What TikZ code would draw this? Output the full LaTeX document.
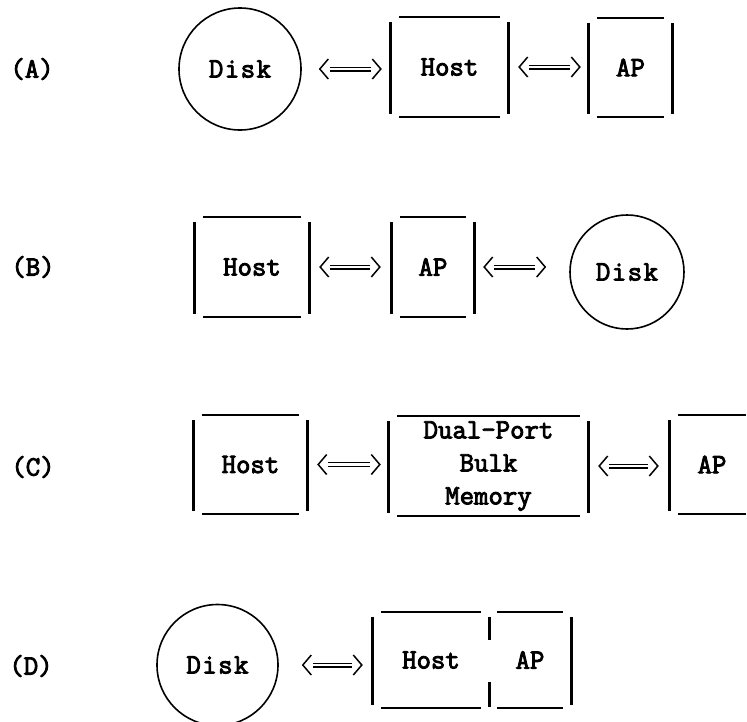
\documentclass[tikz,border=0pt]{standalone}
\usepackage{fontspec}
\newfontfamily\typewriter{Latin Modern Mono}[FakeBold=3.2]
\usetikzlibrary{calc}

\tikzset{
  every node/.style={font=\typewriter\fontsize{28}{33}\selectfont, inner sep=0pt},
  hbar/.style={line width=2pt},
  vbar/.style={line width=3pt},
  disk/.style={circle, draw, line width=1.6pt, minimum size=#1},
  unit/.style 2 args={minimum width=#1, minimum height=#2},
  dbl/.style={double, line width=1.3pt, double distance=2.4pt},
  brk/.style={line width=1.5pt, line join=miter},
}

% horizontal rules above and below a unit
\newcommand\hrules[1]{%
  \draw[hbar] ($(#1.north west)+(8.5,0)$) -- ($(#1.north east)+(-8.5,0)$);
  \draw[hbar] ($(#1.south west)+(8.5,0)$) -- ($(#1.south east)+(-8.5,0)$);}
% heavy side bars
\newcommand\lbar[1]{\draw[vbar] ($(#1.north west)+(0,5)$) -- ($(#1.south west)+(0,-3)$);}
\newcommand\rbar[1]{\draw[vbar] ($(#1.north east)+(0,5)$) -- ($(#1.south east)+(0,-3)$);}
\newcommand\cage[1]{\hrules{#1}\lbar{#1}\rbar{#1}}

% bidirectional transfer symbol between two units
\newcommand\duplex[4]{% from, to, gap at start, gap at end
  \coordinate (#1-#2-s) at ($(#1.east)+(#3,0)$);
  \coordinate (#1-#2-t) at ($(#2.west |- #1-#2-s)+(-#4,0)$);
  \draw[dbl] ($(#1-#2-s)+(10,0)$) -- ($(#1-#2-t)+(-10,0)$);
  \draw[brk] ($(#1-#2-s)+(8.5,-10)$) -- (#1-#2-s) -- ($(#1-#2-s)+(8.5,10)$);
  \draw[brk] ($(#1-#2-t)+(-8.5,-10)$) -- (#1-#2-t) -- ($(#1-#2-t)+(-8.5,10)$);}

\newcommand\disktext{D\kern1.5pt i\kern1.5pt s\kern1.5pt k}

\begin{document}
\begin{tikzpicture}[x=1pt, y=-1pt]
  \useasboundingbox (0,0) rectangle (747,721);

  % case labels
  \node (la) at (32,69)  {(A)};
  \node (lb) at (33,267) {(B)};
  \node (lc) at (33,467) {(C)};
  \node (ld) at (31,666) {(D)};

  % (A) disk -- host -- array processor
  \node[disk=122pt] (diskA) at (240,69) {\disktext};
  \node[unit={117pt}{100pt}] (hostA) at (449.5,67) {Host};
  \node[unit={83pt}{99pt}] (apA) at (630.5,67.5) {AP};
  \cage{hostA}\cage{apA}
  \duplex{diskA}{hostA}{18}{10}
  \duplex{hostA}{apA}{11}{9}

  % (B) host -- array processor -- disk
  \node[unit={114pt}{100pt}] (hostB) at (252,267) {Host};
  \node[unit={82pt}{100pt}] (apB) at (433,267) {AP};
  \node[disk=114pt] (diskB) at (627,272) {\disktext};
  \cage{hostB}\cage{apB}
  \duplex{hostB}{apB}{11}{12}
  \duplex{apB}{diskB}{10}{24}

  % (C) host -- shared memory -- array processor
  \node[unit={113pt}{99pt}] (hostC) at (250.5,464.5) {Host};
  \node[unit={199pt}{99pt}, align=center] (memC) at (488.5,466)
    {Dual-Port\\Bulk\\Memory};
  \node[unit={84pt}{99pt}] (apC) at (712,464.5) {AP};
  \cage{hostC}\cage{memC}\cage{apC}
  \duplex{hostC}{memC}{11}{9}
  \duplex{memC}{apC}{11}{12}

  % (D) disk -- combined host/AP unit
  \node[disk=121pt] (diskD) at (217.5,665) {\disktext};
  \node[unit={116pt}{96pt}] (hostD) at (431,660) {Host};
  \node[unit={82pt}{96pt}] (apD) at (530,660) {AP};
  \hrules{hostD}\hrules{apD}
  \lbar{hostD}\rbar{apD}
  \draw[vbar] ($(hostD.north east)+(0,5)$) -- ($(hostD.north east)+(0,28)$);
  \draw[vbar] ($(hostD.south east)+(0,-26)$) -- ($(hostD.south east)+(0,-1)$);
  \duplex{diskD}{hostD}{24}{11}
\end{tikzpicture}
\end{document}
